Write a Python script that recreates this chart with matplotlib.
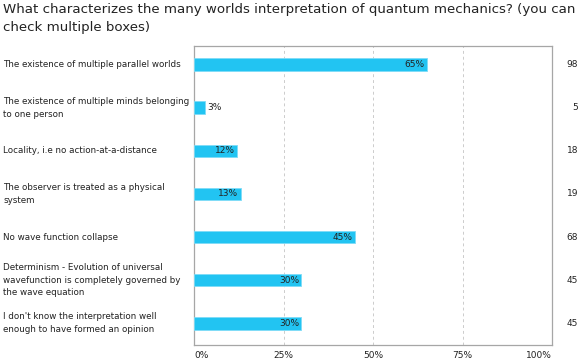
import matplotlib
matplotlib.use("Agg")
import matplotlib.pyplot as plt
from matplotlib.transforms import blended_transform_factory

categories = [
    "The existence of multiple parallel worlds",
    "The existence of multiple minds belonging\nto one person",
    "Locality, i.e no action-at-a-distance",
    "The observer is treated as a physical\nsystem",
    "No wave function collapse",
    "Determinism - Evolution of universal\nwavefunction is completely governed by\nthe wave equation",
    "I don't know the interpretation well\nenough to have formed an opinion",
]
percents = [65, 3, 12, 13, 45, 30, 30]
counts = [98, 5, 18, 19, 68, 45, 45]
xticks = [0, 25, 50, 75, 100]

plt.rcParams["font.family"] = ["DejaVu Sans"]

fig = plt.figure(figsize=(5.81, 3.6), dpi=100)
ax = fig.add_axes([194 / 581, 15 / 360, 358 / 581, 299 / 360])

bar_color = "#22c4f2"
grid_color = "#cccccc"
spine_color = "#a6a6a6"
text_color = "#222222"

y = list(range(len(categories)))
ax.barh(y, percents, height=0.3, color=bar_color, edgecolor="#7fdcf7",
        linewidth=0.6, zorder=3)

for yi, p in zip(y, percents):
    if p >= 10:
        ax.text(p - 0.6, yi, f"{p}%", ha="right", va="center",
                fontsize=6.5, color=text_color, zorder=4)
    else:
        ax.text(p + 0.8, yi, f"{p}%", ha="left", va="center",
                fontsize=6.5, color=text_color, zorder=4)

ax.set_xlim(0, 100)
ax.set_ylim(6.51, -0.44)
ax.set_xticks(xticks)
ax.set_xticklabels([f"{t}%" for t in xticks], fontsize=6.5, color=text_color)
labels = ax.get_xticklabels()
labels[0].set_ha("left")
labels[-1].set_ha("right")
ax.set_yticks([])
ax.tick_params(axis="x", length=0, pad=4)
ax.xaxis.grid(True, ls=(0, (3, 3)), color=grid_color, lw=0.7, zorder=0)
for s in ax.spines.values():
    s.set_color(spine_color)
    s.set_linewidth(0.9)

trans = blended_transform_factory(fig.transFigure, ax.transData)
for yi, cat, n in zip(y, categories, counts):
    ax.text(3 / 581, yi, cat, transform=trans,
            ha="left", va="center", fontsize=6.3, color=text_color,
            linespacing=1.45)
    ax.text(578 / 581, yi, str(n), transform=trans,
            ha="right", va="center", fontsize=6.5, color=text_color)

fig.text(3 / 581, 1 - 3 / 360,
         "What characterizes the many worlds interpretation of quantum mechanics? (you can\ncheck multiple boxes)",
         ha="left", va="top", fontsize=9.6, color=text_color, linespacing=1.45)

fig.savefig("out.png", dpi=100)
